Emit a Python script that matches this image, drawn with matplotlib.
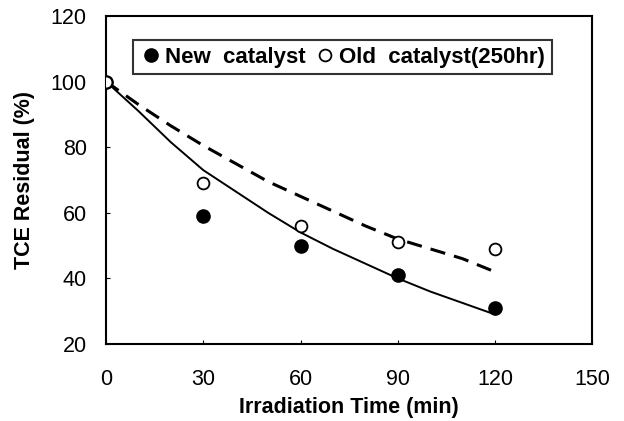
import matplotlib
matplotlib.use("Agg")
import matplotlib.pyplot as plt

plt.rcParams['font.family'] = ['Liberation Sans', 'DejaVu Sans']

# measured points
time_min = [0, 30, 60, 90, 120]
new_catalyst = [100, 59, 50, 41, 31]
old_catalyst = [100, 69, 56, 51, 49]

# fitted curves
curve_t = [0, 10, 20, 30, 40, 50, 60, 70, 80, 90, 100, 110, 120]
new_curve = [100, 91, 81.5, 73, 66.5, 60, 54, 49, 44.5, 40, 36, 32.5, 29]
old_curve = [100, 93, 86.5, 80.5, 75, 69.5, 65, 60.5, 56, 52, 49, 46, 42]

xticks = [0, 30, 60, 90, 120, 150]
yticks = [20, 40, 60, 80, 100, 120]

fig = plt.figure(figsize=(6.24, 4.21), dpi=100)
ax = fig.add_axes([0.170, 0.183, 0.779, 0.779])

ax.plot(curve_t, new_curve, color='black', lw=1.4, zorder=2)
ax.plot(curve_t, old_curve, color='black', lw=2.2, dashes=(5, 3), zorder=2)
ax.plot(time_min, new_catalyst, 'o', color='black', ms=9.5, zorder=3,
        label='New  catalyst')
ax.plot(time_min, old_catalyst, 'o', mfc='white', mec='black', mew=1.3,
        ms=8.5, zorder=3, label='Old  catalyst(250hr)')

ax.set_xlim(0, 150)
ax.set_ylim(20, 120)
ax.set_xticks(xticks)
ax.set_yticks(yticks)
ax.tick_params(direction='in', length=3, width=0.8, labelsize=15.5)
ax.tick_params(axis='x', pad=18)
ax.tick_params(axis='y', pad=14)
for s in ax.spines.values():
    s.set_linewidth(1.5)

ax.set_xlabel('Irradiation Time (min)', fontsize=15.5, fontweight='bold', labelpad=5)
ax.set_ylabel('TCE Residual (%)', fontsize=15.5, fontweight='bold', labelpad=11)

leg = ax.legend(loc='upper left', bbox_to_anchor=(0.055, 0.927), ncol=2,
                frameon=True, fancybox=False, edgecolor='black',
                prop={'weight': 'bold', 'size': 16}, handletextpad=0.15,
                columnspacing=0.35, borderpad=0.3, handlelength=1.0,
                borderaxespad=0)
leg.get_frame().set_linewidth(1.5)

fig.savefig('out.png', dpi=100)
